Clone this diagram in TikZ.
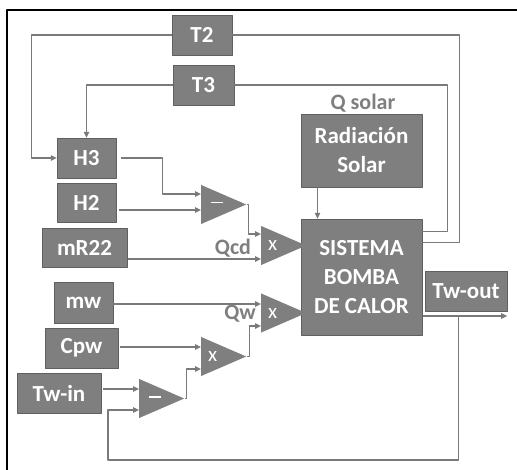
\documentclass[tikz,border=0pt]{standalone}
\usepackage{fontspec}
\setmainfont{Carlito}
\usetikzlibrary{arrows.meta,shapes.geometric}
\definecolor{boxgray}{HTML}{7F7F7F}
\definecolor{edgegray}{HTML}{606060}
\definecolor{linegray}{HTML}{7A7A7A}
\tikzset{
  every picture/.style={line join=round, >={Triangle[length=6pt,width=5.5pt]}},
  blk/.style={draw=edgegray, fill=boxgray, text=white, align=center, inner sep=0pt,
    font=\fontsize{23}{29}\selectfont\bfseries},
  amp/.style={isosceles triangle, isosceles triangle stretches, fill=boxgray, anchor=west,
    minimum width=39pt, minimum height=45pt, inner sep=0pt, text=white,
    font=\fontsize{21}{22}\selectfont},
  wire/.style={draw=linegray, line width=1.1pt},
  lbl/.style={text=boxgray, font=\fontsize{22}{24}\selectfont\bfseries},
}
\newcommand{\subsign}{\raisebox{1pt}[0pt][0pt]{\rule{12pt}{1.5pt}}}

\begin{document}
\begin{tikzpicture}[x=1pt,y=-1pt]
\useasboundingbox (0,0) rectangle (517,470);
\draw[line width=2pt] (7,470)--(7,10)--(517,10);

\node[blk, minimum width=60pt, minimum height=40pt] (T2) at (202,35) {T2};
\node[blk, minimum width=61pt, minimum height=40pt] (T3) at (203.5,85) {T3};
\node[blk, minimum width=59pt, minimum height=40pt] (H3) at (86.5,158) {H3};
\node[blk, minimum width=59pt, minimum height=39pt] (H2) at (86.5,202.5) {H2};
\node[blk, minimum width=85pt, minimum height=39pt] (mR22) at (84.5,247.5) {mR22};
\node[blk, minimum width=59pt, minimum height=41pt] (mw) at (83.5,302.5) {mw};
\node[blk, minimum width=73pt, minimum height=40pt] (Cpw) at (81.5,348) {Cpw};
\node[blk, minimum width=84pt, minimum height=40pt] (twin) at (59,393) {Tw-in};
\node[blk, minimum width=121pt, minimum height=73pt] (rad) at (361.5,150.5) {Radiación\\Solar};
\node[blk, minimum width=121pt, minimum height=116pt] (sis) at (361.5,277) {SISTEMA\\BOMBA\\DE CALOR};
\node[blk, minimum width=82pt, minimum height=40pt] (twout) at (466,291) {Tw-out};

\node[amp] (m1) at (201,204.5) {\subsign};
\node[amp] (x1) at (261,245.5) {x};
\node[amp] (x2) at (261,313) {x};
\node[amp] (x3) at (201,356.5) {x};
\node[amp] (m2) at (139,398.5) {\subsign};

\node[lbl] (qsol) at (363,103) {Q solar};
\node[lbl] (qcd) at (233,248) {Qcd};
\node[lbl] (qw) at (240,314) {Qw};

\coordinate (m1a) at ([yshift=10.5pt]m1.west);
\coordinate (m1b) at ([yshift=-5.5pt]m1.west);
\coordinate (x1a) at ([yshift=11.5pt]x1.west);
\coordinate (x1b) at ([yshift=-13.5pt]x1.west);
\coordinate (x2a) at ([yshift=9pt]x2.west);
\coordinate (x2b) at ([yshift=-13pt]x2.west);
\coordinate (x3a) at ([yshift=9.5pt]x3.west);
\coordinate (x3b) at ([yshift=-12.5pt]x3.west);
\coordinate (m2a) at ([yshift=9.5pt]m2.west);
\coordinate (m2b) at ([yshift=-11.5pt]m2.west);
\coordinate (out) at ([yshift=-39pt]sis.east);
\coordinate (fb) at ([xshift=36pt]out);

\draw[wire,->] ([xshift=5pt]H3.east) -- ++(41,0) |- (m1a);
\draw[wire,->] ([xshift=3pt]H2.east |- m1b) -- (m1b);
\draw[wire,->] (m1.apex) -- ++(2,0) |- (x1a);
\draw[wire,->] ([xshift=1pt]mR22.east |- x1b) -- (x1b);
\draw[wire,->] (mw.east |- x2a) -- (x2a);
\draw[wire,->] (x3.apex) -- ++(3,0) |- (x2b);
\draw[wire,->] ([xshift=2pt]Cpw.east |- x3a) -- (x3a);
\draw[wire,->] (m2.apex) -- ++(2,0) |- (x3b);
\draw[wire,->] ([xshift=2pt]twin.east |- m2a) -- (m2a);

\draw[wire,->] ([xshift=-44pt]rad.south) -- ([xshift=-44pt]sis.north);
\draw[wire,->] ([xshift=1pt]out) -- (out -| twout.east);
\draw[wire,->] (fb) -- ++(0,144) -| ([xshift=-31pt]m2b) -- (m2b);

\draw[wire] ([yshift=-13pt]sis.north east) -- ++(25,0) |- (T3.east);
\draw[wire] ([yshift=-24pt]sis.north east) -- ++(37,0) |- (T2.east);
\draw[wire,->] (T2.west) -- ++(-140,0) |- (H3.west);
\draw[wire,->] (T3.west) -| (H3.north);
\end{tikzpicture}
\end{document}
